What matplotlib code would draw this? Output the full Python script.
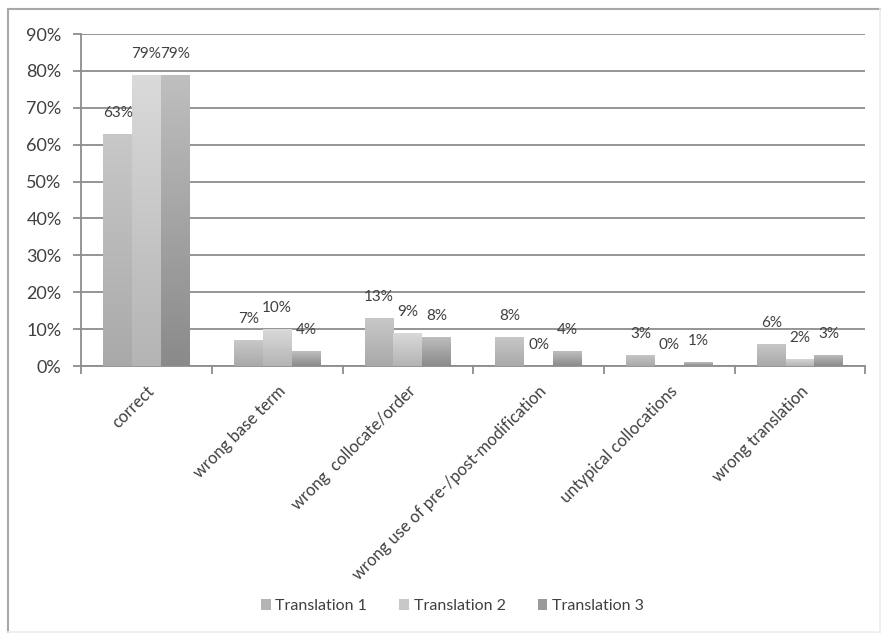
import matplotlib
matplotlib.use("Agg")
import matplotlib.pyplot as plt
from matplotlib.lines import Line2D
import numpy as np

categories = ["correct", "wrong base term", "wrong  collocate/order",
              "wrong use of pre-/post-modification", "untypical collocations",
              "wrong translation"]
series = ["Translation 1", "Translation 2", "Translation 3"]
trans1 = [63, 7, 13, 8, 3, 6]
trans2 = [79, 10, 9, 0, 0, 2]
trans3 = [79, 4, 8, 4, 1, 3]

# (top colour, bottom colour) for the vertical shading of each series
shades = [("#c8c8c8", "#a9a9a9"), ("#dadada", "#b4b4b4"), ("#bfbfbf", "#8a8a8a")]
legend_cols = ["#b4b4b4", "#c8c8c8", "#9a9a9a"]
txt = "#404040"

plt.rcParams['font.family'] = ['Lato', 'DejaVu Sans']

fig = plt.figure(figsize=(8.82, 6.36), dpi=100)
ax = fig.add_axes([0.092, 0.4245, 0.889, 0.522])

x = np.arange(len(categories))
w = 0.22
for i, (vals, name) in enumerate(zip([trans1, trans2, trans3], series)):
    vals = np.array(vals) / 100.0
    bars = ax.bar(x + (i - 1) * w, vals, w, color=legend_cols[i], label=name, zorder=2)
    top, bot = [np.array(matplotlib.colors.to_rgb(c)) for c in shades[i]]
    grad = np.linspace(0, 1, 256)[:, None, None] * (bot - top) + top
    for b, v in zip(bars, vals):
        bx = b.get_x()
        if v > 0:
            im = ax.imshow(grad, extent=[bx, bx + w, 0, v], origin="upper",
                           aspect="auto", zorder=3, interpolation="bicubic")
            im.set_clip_path(b)
        ax.annotate(f"{int(round(v * 100))}%", (bx + w / 2, v), xytext=(0, 10),
                    textcoords="offset points", ha="center", va="bottom",
                    fontsize=11, color=txt, zorder=4)

ax.set_xlim(-0.5, len(categories) - 0.5)
ax.set_ylim(0, 0.9)
yt = np.arange(0, 0.91, 0.1)
ax.set_yticks(yt)
ax.set_yticklabels([f"{int(round(t * 100))}%" for t in yt])
ax.yaxis.grid(True, color="#8c8c8c", linewidth=1.3, zorder=0)
ax.set_axisbelow(True)

# boundaries between categories get the tick marks, names sit at the centres
ax.set_xticks(np.arange(-0.5, len(categories), 1.0))
ax.set_xticklabels([])
ax.set_xticks(x, minor=True)
ax.set_xticklabels(categories, minor=True, rotation=45, ha="right",
                   rotation_mode="anchor", fontsize=12, color=txt)
ax.tick_params(axis="x", which="minor", length=0, pad=12)
ax.tick_params(axis="x", which="major", length=6, color="#8c8c8c", width=1.3)
ax.tick_params(axis="y", length=6, color="#8c8c8c", width=1.3, labelsize=13,
               labelcolor=txt, pad=8)

for s in ["top", "right"]:
    ax.spines[s].set_visible(False)
for s in ["left", "bottom"]:
    ax.spines[s].set_color("#8c8c8c")
    ax.spines[s].set_linewidth(1.3)

fig.legend(handles=ax.containers, labels=series, loc="center",
           bbox_to_anchor=(0.513, 0.047), ncol=3, frameon=False, fontsize=11.5,
           handlelength=0.6, handleheight=0.6, handletextpad=0.3,
           columnspacing=2.0, labelcolor=txt)

# outer frame: darker on top and left, faint on right and bottom
L, R, T, B = 8 / 882, 880 / 882, 1 - 9 / 636, 1 - 632 / 636
fig.add_artist(Line2D([L, R], [T, T], transform=fig.transFigure, color="#a8a8a8", lw=1.5))
fig.add_artist(Line2D([L, L], [T, B], transform=fig.transFigure, color="#a8a8a8", lw=1.5))
fig.add_artist(Line2D([R, R], [T, B], transform=fig.transFigure, color="#ececec", lw=1.2))
fig.add_artist(Line2D([L, R], [B, B], transform=fig.transFigure, color="#ececec", lw=1.2))

fig.savefig("out.png", dpi=100)
